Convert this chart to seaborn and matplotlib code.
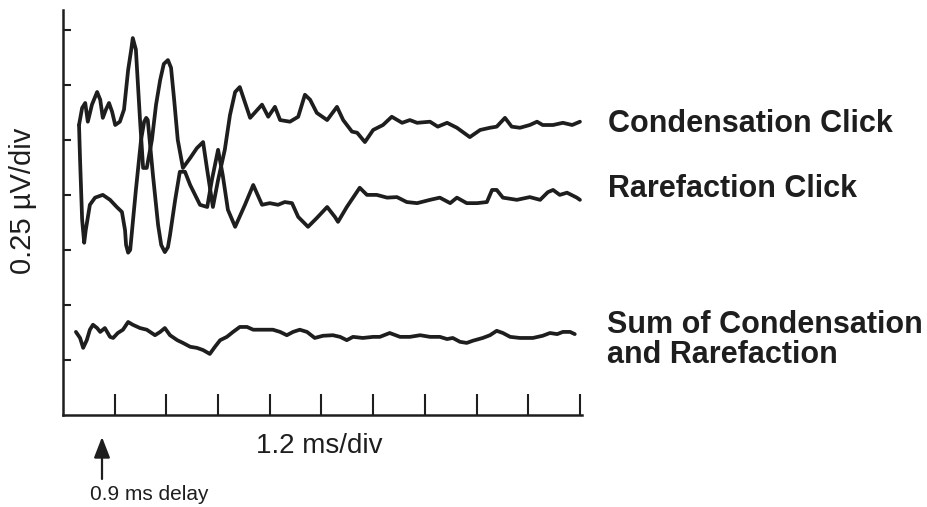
import numpy as np
import pandas as pd
import matplotlib
matplotlib.use("Agg")
import matplotlib.pyplot as plt
import seaborn as sns

# Time axis in divisions (1 div = 1.2 ms), amplitude in divisions (1 div = 0.25 uV)
cond_t = [0.31,0.37,0.43,0.48,0.56,0.66,0.72,0.77,0.83,0.89,
          0.95,1.01,1.10,1.18,1.26,1.32,1.35,1.41,1.49,1.55,1.62,
          1.72,1.80,1.88,1.95,2.03,2.09,2.15,2.22,2.32,2.46,2.59,2.71,2.79,
          2.90,3.00,3.13,3.23,3.33,3.42,
          3.62,3.85,3.97,4.10,4.20,4.39,4.55,4.68,4.78,4.91,
          5.11,5.30,5.42,5.59,5.69,5.84,6.00,6.19,6.36,6.56,
          6.71,6.85,7.10,7.25,7.43,7.62,7.87,8.07,8.26,8.39,
          8.55,8.68,8.84,9.03,9.17,9.28,9.48,9.67,9.85,10.00]
cond_v = [5.27,5.58,5.67,5.33,5.64,5.87,5.73,5.40,5.55,5.67,
          5.51,5.27,5.33,5.55,6.27,6.64,6.85,6.64,5.36,4.49,4.49,
          5.00,5.64,6.09,6.38,6.45,6.31,5.73,5.00,4.49,4.67,4.85,4.96,4.45,
          3.78,4.27,4.82,5.45,5.87,5.96,
          5.40,5.64,5.42,5.60,5.36,5.33,5.42,5.82,5.73,5.49,
          5.36,5.60,5.36,5.15,5.13,4.96,5.18,5.27,5.42,5.31,
          5.36,5.31,5.33,5.24,5.31,5.22,5.05,5.18,5.22,5.24,
          5.40,5.24,5.22,5.27,5.33,5.27,5.27,5.31,5.27,5.33]

rare_t = [0.31,0.33,0.37,0.41,0.44,0.52,0.62,0.77,0.91,1.04,
          1.14,1.20,1.22,1.26,1.30,1.41,1.51,1.57,1.61,1.64,1.74,1.84,
          1.90,1.97,2.03,2.07,2.17,2.26,2.36,2.46,2.65,2.79,2.88,3.00,
          3.09,3.19,3.33,3.52,3.68,3.85,4.00,4.16,4.29,4.43,
          4.55,4.74,4.91,5.11,5.26,5.32,5.49,5.74,5.88,6.07,
          6.27,6.46,6.65,6.85,7.10,7.29,7.49,7.62,7.81,8.01,
          8.20,8.30,8.39,8.51,8.78,9.03,9.23,9.38,9.48,9.61,
          9.75,9.94,10.00]
rare_v = [5.27,4.64,3.55,3.13,3.36,3.82,3.95,4.00,3.91,3.78,
          3.69,3.36,3.09,2.95,3.00,4.09,5.00,5.33,5.40,5.36,4.36,3.45,
          3.09,2.96,3.05,3.27,3.91,4.42,4.42,4.18,3.82,3.78,4.27,4.82,
          4.36,3.73,3.42,3.82,4.18,3.82,3.85,3.82,3.87,3.85,
          3.60,3.42,3.58,3.78,3.60,3.51,3.78,4.13,4.00,4.00,
          3.95,3.96,3.87,3.85,3.91,3.95,3.85,3.95,3.85,3.85,
          3.87,4.09,4.09,3.95,3.91,3.96,3.91,4.05,4.09,4.00,
          4.04,3.95,3.91]

sum_t = [0.25,0.33,0.39,0.46,0.52,0.58,0.66,0.72,0.81,0.91,
         0.97,1.06,1.16,1.26,1.35,1.49,1.62,1.78,1.88,1.97,
         2.07,2.21,2.32,2.46,2.59,2.71,2.84,2.94,3.04,3.17,
         3.29,3.42,3.56,3.68,3.87,4.06,4.20,4.33,4.45,4.58,
         4.72,4.87,5.03,5.22,5.36,5.49,5.61,5.80,6.00,6.13,
         6.32,6.52,6.71,6.91,7.10,7.29,7.43,7.54,7.68,7.81,
         7.93,8.12,8.26,8.39,8.51,8.65,8.84,9.09,9.28,9.42,
         9.56,9.67,9.81,9.90]
sum_v = [1.51,1.40,1.22,1.36,1.55,1.64,1.58,1.51,1.58,1.42,
         1.40,1.49,1.55,1.69,1.64,1.58,1.55,1.45,1.51,1.58,
         1.45,1.36,1.31,1.24,1.22,1.18,1.11,1.24,1.36,1.42,
         1.51,1.60,1.60,1.55,1.55,1.55,1.51,1.45,1.51,1.55,
         1.51,1.40,1.44,1.45,1.42,1.36,1.42,1.40,1.42,1.42,
         1.49,1.42,1.42,1.45,1.42,1.42,1.38,1.40,1.33,1.31,
         1.35,1.40,1.45,1.53,1.49,1.42,1.40,1.40,1.44,1.49,
         1.47,1.51,1.51,1.47]

labels = ["Condensation Click", "Rarefaction Click", "Sum of Condensation\nand Rarefaction"]
x_ticks = list(range(1, 11))
y_ticks = list(range(1, 8))

sns.set_style("white")
plt.rcParams['font.family'] = ['Liberation Sans', 'DejaVu Sans']

df = pd.concat([
    pd.DataFrame({"t": cond_t, "v": cond_v, "trace": labels[0]}),
    pd.DataFrame({"t": rare_t, "v": rare_v, "trace": labels[1]}),
    pd.DataFrame({"t": sum_t, "v": sum_v, "trace": labels[2]}),
])

ink = "#1e1e1e"
fig = plt.figure(figsize=(9.27, 5.07), dpi=100)
ax = fig.add_axes([63/927, 92/507, 519/927, 405/507])
for name in labels:
    sub = df[df["trace"] == name]
    sns.lineplot(data=sub, x="t", y="v", ax=ax, sort=False, estimator=None,
                 color=ink, linewidth=2.7, legend=False,
                 solid_joinstyle="round", solid_capstyle="round")

ax.set_xlim(0, 10.04)
ax.set_ylim(0, 7.36)
ax.set_xticks(x_ticks)
ax.set_yticks(y_ticks)
ax.set_xticklabels([])
ax.set_yticklabels([])
ax.set_xlabel("")
ax.set_ylabel("")
for s in ["top", "right"]:
    ax.spines[s].set_visible(False)
for s in ["left", "bottom"]:
    ax.spines[s].set_linewidth(1.8)
    ax.spines[s].set_color(ink)
ax.tick_params(axis="x", direction="in", length=15, width=1.5, color=ink, bottom=True)
ax.tick_params(axis="y", direction="in", length=6, width=1.5, color=ink, left=True)

# Labels
fig.text(608/927, 1-132/507, "Condensation Click", fontsize=22, fontweight="bold",
         color=ink, ha="left", va="baseline")
fig.text(608/927, 1-197/507, "Rarefaction Click", fontsize=22, fontweight="bold",
         color=ink, ha="left", va="baseline")
fig.text(607/927, 1-333/507, "Sum of Condensation", fontsize=22, fontweight="bold",
         color=ink, ha="left", va="baseline")
fig.text(607/927, 1-363/507, "and Rarefaction", fontsize=22, fontweight="bold",
         color=ink, ha="left", va="baseline")

fig.text(256/927, 1-453/507, "1.2 ms/div", fontsize=20, color=ink, ha="left", va="baseline")
fig.text(23/927, 1-201/507, "0.25 \u00b5V/div", fontsize=21, color=ink, rotation=90,
         ha="center", va="center")
fig.text(90/927, 1-500/507, "0.9 ms delay", fontsize=15, color=ink, ha="left", va="baseline")

ax.annotate("", xy=(102/927, 1-437/507), xytext=(102/927, 1-479/507),
            xycoords="figure fraction", textcoords="figure fraction",
            arrowprops=dict(arrowstyle="-|>,head_length=0.9,head_width=0.35",
                            mutation_scale=14, lw=1.6, color=ink, shrinkA=0, shrinkB=0))

fig.savefig("out.png", dpi=100, facecolor="white")
